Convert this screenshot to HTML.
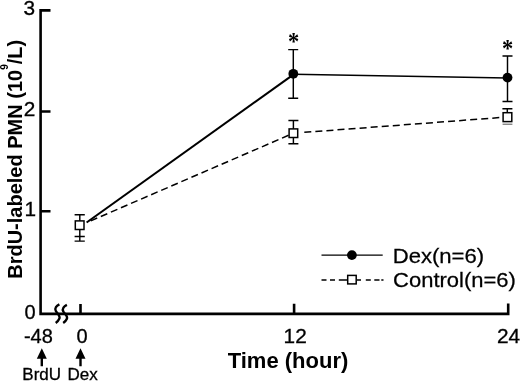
<!DOCTYPE html>
<html>
<head>
<meta charset="utf-8">
<title>BrdU-labeled PMN</title>
<style>
html,body{margin:0;padding:0;background:#fff;}
body{width:520px;height:382px;overflow:hidden;}
svg{display:block;}
text{font-family:"Liberation Sans",Arial,Helvetica,sans-serif;fill:#000;}
.b{font-weight:bold;}
.ast{font-family:"Liberation Serif","Times New Roman",serif;}
</style>
</head>
<body>
<svg width="520" height="382" viewBox="0 0 520 382">
<rect width="520" height="382" fill="#fff"/>
<!-- axes -->
<g stroke="#000" fill="none" stroke-linecap="butt">
<path d="M50.5 10.4H40.6V313.9H508.2V303.6" stroke-width="2.6" stroke-linejoin="miter"/>
<path d="M40.6 111.5H50.5M40.6 211.3H50.5" stroke-width="2.5"/>
<path d="M80.5 304.1V313.9M294.1 303.8V313.9" stroke-width="2.6"/>
<!-- axis break -->
<path d="M59.4 304.4C56.5 305.8 54.3 308.3 55.8 311C57.3 313.6 60.6 316 59.4 318.6C58.6 320.4 57.5 321.9 55.7 323.1" stroke-width="2.4"/>
<path d="M66.9 304.9C64 306.3 61.8 308.8 63.3 311.5C64.8 314.1 68.1 316.2 66.9 318.8C66.1 320.6 65 321.9 63.2 323.1" stroke-width="2.4"/>
</g>
<!-- data lines -->
<g stroke="#000" fill="none">
<path d="M86.6 222.5L293.3 74.6" stroke-width="2.1"/>
<path d="M293.3 74.2L507.5 78" stroke-width="1.4"/>
<path d="M90.75 220.85L293.4 133.2" stroke-width="1.5" stroke-dasharray="7.05 3.92"/>
<path d="M304.3 132.37L499.4 117.6" stroke-width="1.5" stroke-dasharray="7 4.09"/>
</g>
<!-- error bars -->
<g stroke="#000" fill="none" stroke-width="1.45">
<path d="M79.8 214.7V241.1M74.6 214.7H84.8M74.6 236.4H84.8M74.6 241.1H84.8"/>
<path d="M293.3 49.6V98.2M288.2 49.6H298.2M288.2 98.2H298.2"/>
<path d="M293.4 120.5V143.8M288.4 120.5H298.4M288.4 143.8H298.4"/>
<path d="M507.5 56V101.5M502.5 56H512.5M502.5 101.5H512.5"/>
<path d="M507.3 108.7V112M502.4 108.7H512.4"/><path d="M502.6 124.2H512.4" stroke-width="1" stroke="#555"/>
</g>
<!-- markers -->
<g stroke="#000" stroke-width="1.5" fill="#fff">
<rect x="75.3" y="220.9" width="8.7" height="8.6"/>
<rect x="289.1" y="128.9" width="8.6" height="8.6"/>
<rect x="503.1" y="112.7" width="8.7" height="8.9"/>
<rect x="347.7" y="275.4" width="8.5" height="8.5"/>
</g>
<g fill="#000">
<circle cx="293.3" cy="73.8" r="4.9"/>
<circle cx="507.5" cy="77.6" r="4.9"/>
<circle cx="351.9" cy="255.1" r="4.9"/>
</g>
<!-- legend lines -->
<g stroke="#000" fill="none" stroke-width="1.4">
<path d="M321.5 255.1H382.7"/>
<path d="M321.5 280H326.5M330 280H335M338.8 280H347M357 280H361M365.8 280H370.8M374.3 280H379.5M381.3 280H383.5"/>
</g>
<!-- asterisks -->
<text class="ast" transform="translate(293.6 50.2) scale(0.9 1)" font-size="25" font-weight="bold" text-anchor="middle">*</text>
<text class="ast" transform="translate(507.6 57) scale(0.9 1)" font-size="25" font-weight="bold" text-anchor="middle">*</text>
<!-- tick labels -->
<g font-size="20" stroke="#000" stroke-width="0.3">
<text transform="translate(23.6 15.2) scale(1.04 1)">3</text>
<text transform="translate(23.8 115.8) scale(1.04 1)">2</text>
<text transform="translate(24.4 216.1) scale(1.04 1)">1</text>
<text transform="translate(24.6 319.2) scale(1 1)">0</text>
<text transform="translate(23.9 343.2) scale(1 1)">-48</text>
<text transform="translate(76.4 343.2) scale(1 1)">0</text>
<text transform="translate(283.6 343) scale(1.04 1)">12</text>
<text transform="translate(497 343) scale(1.04 1)">24</text>
</g>
<g font-size="17" stroke="#000" stroke-width="0.3">
<text x="22.3" y="379.7">BrdU</text>
<text x="67.5" y="379.7">Dex</text>
</g>
<g font-size="20" stroke="#000" stroke-width="0.25">
<text transform="translate(392.7 262.6) scale(1.105 1)">Dex(n=6)</text>
<text transform="translate(393.1 287.4) scale(1.099 1)">Control(n=6)</text>
</g>
<!-- arrows -->
<g fill="#000" stroke="none">
<path d="M41.8 348.2L46.8 358.7H43V366.2H40.6V358.7H36.8Z"/>
<path d="M80.5 348.2L85.5 358.7H81.7V366.2H79.3V358.7H75.5Z"/>
</g>
<!-- titles -->
<text class="b" x="227.7" y="367.8" font-size="22">Time (hour)</text>
<text class="b" transform="translate(21.6 278.8) rotate(-90)" font-size="20">BrdU-labeled PMN (10<tspan font-size="10" dy="-13.2">9</tspan><tspan dy="13.2">/L)</tspan></text>
</svg>
</body>
</html>
